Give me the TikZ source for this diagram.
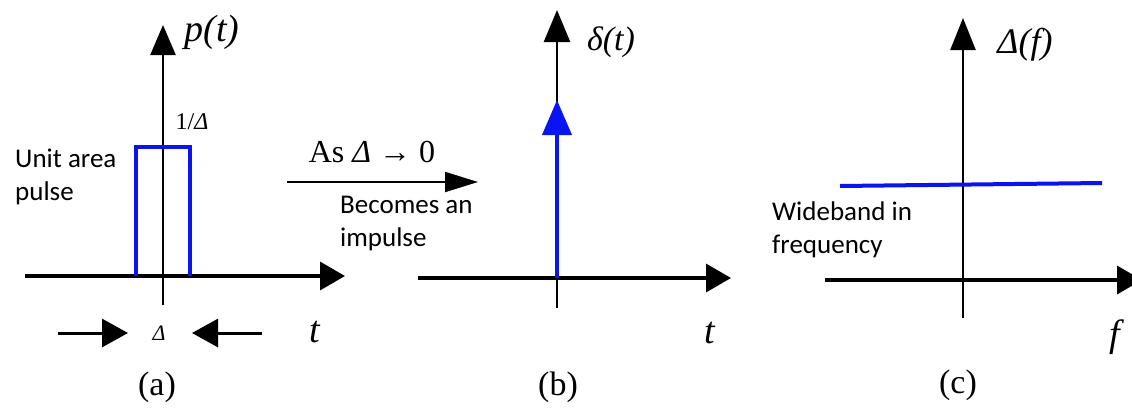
\documentclass[tikz,border=0pt]{standalone}
\usepackage{fontspec}
\setmainfont{Liberation Serif}
\newfontfamily\lblfont{Carlito}
\usetikzlibrary{arrows.meta}
\definecolor{pulseblue}{RGB}{10,20,240}
\tikzset{
  haxis/.style={line width=3.5pt,-{Triangle[length=25pt,width=28pt]}},
  vaxis/.style={line width=2.5pt,-{Triangle[length=30pt,width=25pt]}},
  bluepath/.style={pulseblue,line width=4pt},
  sanslbl/.style={font=\lblfont\fontsize{27}{33}\selectfont,align=left,anchor=west,inner sep=0pt},
  serlbl/.style={font=\fontsize{34}{38}\selectfont,inner sep=0pt},
  smallarrow/.style={line width=3pt,-{Triangle[length=26pt,width=28pt]}},
}
\begin{document}
\begin{tikzpicture}[x=1pt,y=-1pt]
\clip (0,0) rectangle (1132,410);
\fill[white] (0,0) rectangle (1132,410);
% ---------- panel (a)
\coordinate (aL) at (25,276);
\coordinate (aR) at (345,276);
\coordinate (aB) at (163,305);
\coordinate (aT) at (163,25);
\draw[haxis] (aL) -- (aR);
\draw[vaxis] (aB) -- (aT);
\coordinate (p1) at (136,276);
\coordinate (p2) at (136,147);
\coordinate (p3) at (190,147);
\coordinate (p4) at (190,276);
\draw[bluepath,line join=miter] (p1) -- (p2) -- (p3) -- (p4);
\node[serlbl,font=\fontsize{38}{40}\selectfont] (pt) at (212,32) {\itshape p(t)};
\node[serlbl,font=\fontsize{24}{26}\selectfont] (inv) at (192,122) {1/\textit{Δ}};
\node[sanslbl] (unit) at (15,177) {Unit area\\pulse};
\coordinate (la1) at (58,333);
\coordinate (la2) at (128,333);
\coordinate (ra1) at (262,333);
\coordinate (ra2) at (192,333);
\draw[smallarrow] (la1) -- (la2);
\draw[smallarrow] (ra1) -- (ra2);
\node[serlbl,font=\fontsize{22}{24}\selectfont] (dl) at (159,333) {\textit{Δ}};
\node[serlbl,font=\fontsize{38}{40}\selectfont] (ta) at (315,332) {\itshape t};
\node[serlbl] (capa) at (157,387) {(a)};
% ---------- middle arrow
\coordinate (mL) at (287,182);
\coordinate (mR) at (478,182);
\draw[line width=2pt,-{Triangle[length=33pt,width=20pt]}] (mL) -- (mR);
\node[serlbl,font=\fontsize{32}{34}\selectfont] (as) at (372,152) {As \textit{Δ} → 0};
\node[sanslbl] (bec) at (340,224) {Becomes an\\impulse};
% ---------- panel (b)
\coordinate (bL) at (418,278);
\coordinate (bR) at (731,278);
\coordinate (bB) at (557,308);
\coordinate (bT) at (557,10);
\draw[haxis] (bL) -- (bR);
\draw[vaxis,-{Triangle[length=32pt,width=26pt]}] (bB) -- (bT);
\coordinate (i0) at (557,278);
\coordinate (i1) at (557,100);
\draw[bluepath,-{Triangle[length=35pt,width=29pt]}] (i0) -- (i1);
\node[serlbl] (dt) at (611,42) {\itshape δ(t)};
\node[serlbl,font=\fontsize{38}{40}\selectfont] (tb) at (710,333) {\itshape t};
\node[serlbl] (capb) at (558,387) {(b)};
% ---------- panel (c)
\coordinate (cL) at (825,280);
\coordinate (cR) at (1142,280);
\coordinate (cB) at (963,318);
\coordinate (cT) at (963,18);
\draw[haxis] (cL) -- (cR);
\draw[vaxis,-{Triangle[length=32pt,width=25pt]}] (cB) -- (cT);
\coordinate (w0) at (840,186);
\coordinate (w1) at (1102,183);
\draw[bluepath] (w0) -- (w1);
\node[serlbl,font=\fontsize{36}{38}\selectfont] (df) at (1025,45) {\itshape Δ(f)};
\node[sanslbl] (wide) at (772,230) {Wideband in\\frequency};
\node[serlbl,font=\fontsize{38}{40}\selectfont] (fc) at (1115,337) {\itshape f};
\node[serlbl] (capc) at (958,385) {(c)};
\end{tikzpicture}
\end{document}
